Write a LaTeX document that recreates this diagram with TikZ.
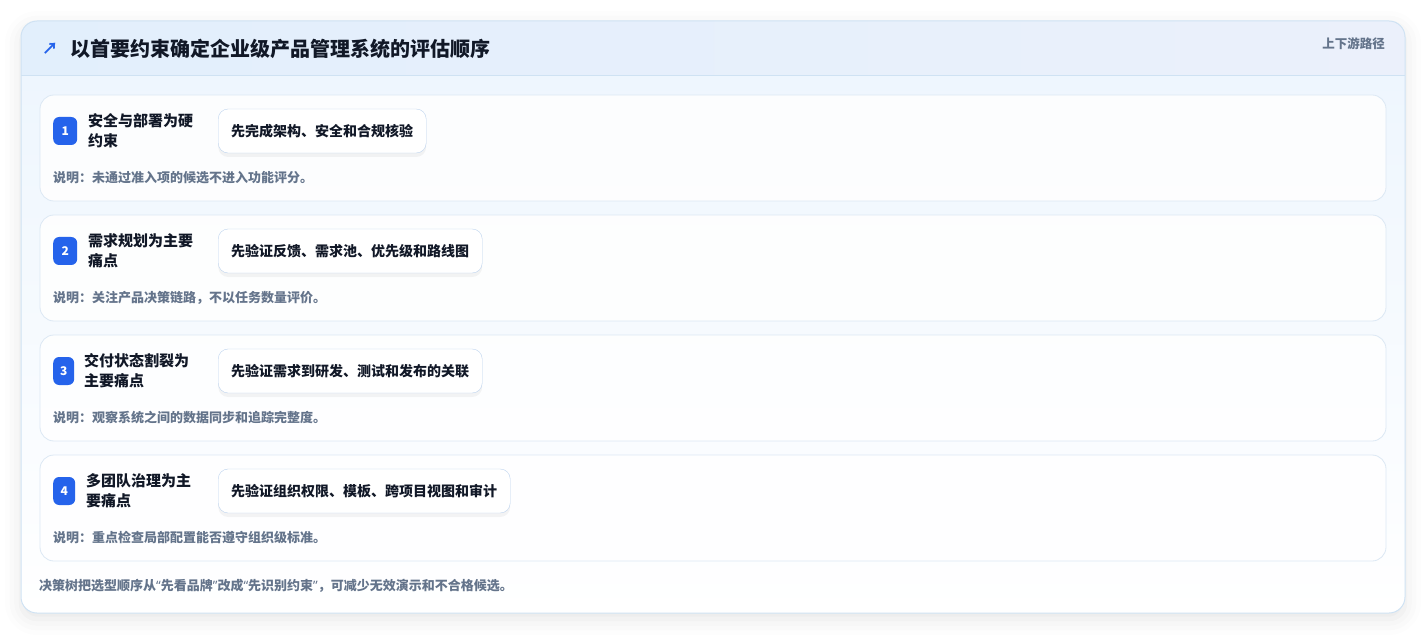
\documentclass[tikz,border=0pt]{standalone}
\usepackage{fontspec}
\setmainfont{Noto Sans CJK SC}
\newfontfamily\latinq{Noto Sans}
\usetikzlibrary{positioning, shadows.blur}
\definecolor{cardline}{HTML}{CFE2F3}
\definecolor{stepline}{HTML}{DCE8F4}
\definecolor{actline}{HTML}{BDD3EE}
\definecolor{badgeblue}{HTML}{2563EB}
\definecolor{inkdark}{HTML}{111827}
\definecolor{inkgray}{HTML}{64748B}
\definecolor{bodytop}{HTML}{EEF6FE}
\definecolor{headleft}{HTML}{E2EFFC}
\definecolor{headright}{HTML}{EBF0FB}
\newcommand{\oquote}{{\latinq “}}
\newcommand{\cquote}{{\latinq ”}}
\tikzset{
  stepcard/.style={draw=stepline, fill=white, fill opacity=.85, rounded corners=14pt, line width=.8pt},
  badge/.style={anchor=west, fill=badgeblue, rounded corners=6pt, minimum height=28pt,
    inner sep=0pt, text=white, font=\bfseries\fontsize{12}{14}\selectfont},
  steplabel/.style={anchor=west, align=left, inner sep=0pt, text=inkdark,
    font=\bfseries\fontsize{15}{20}\selectfont},
  actbox/.style={anchor=west, draw=actline, fill=white, rounded corners=10pt, minimum height=44pt,
    inner xsep=13pt, text=inkdark, font=\bfseries\fontsize{14}{16}\selectfont,
    preaction={draw=none, fill=black, fill opacity=.045, transform canvas={yshift=-4pt}}},
  notetext/.style={anchor=west, inner sep=0pt, text=inkgray, font=\bfseries\fontsize{13}{15}\selectfont}
}

\begin{document}
\begin{tikzpicture}[x=1pt, y=-1pt]
\useasboundingbox (0,0) rectangle (1426,636);

% outer card
\fill[white, blur shadow={shadow xshift=0pt, shadow yshift=-6pt, shadow blur radius=16pt, shadow opacity=10}, rounded corners=16pt]
  (21,21) rectangle (1405,613);
\begin{scope}
  \clip[rounded corners=16pt] (21,21) rectangle (1405,613);
  \shade[top color=bodytop, bottom color=white] (21,75) rectangle (1405,613);
  \shade[left color=headleft, right color=headright] (21,21) rectangle (1405,75);
  \draw[cardline, line width=.8pt] (21,75) -- (1405,75);
\end{scope}
\draw[cardline, line width=1pt, rounded corners=16pt] (21,21) rectangle (1405,613);

% header
\node[anchor=center, text=badgeblue, font=\bfseries\fontsize{16}{16}\selectfont] (icon) at (50,49) {↗};
\node[anchor=west, inner sep=0pt, text=inkdark, font=\bfseries\fontsize{20}{22}\selectfont] (title) at (70,49)
  {以首要约束确定企业级产品管理系统的评估顺序};
\node[anchor=east, inner sep=0pt, text=inkgray, font=\bfseries\fontsize{12.5}{14}\selectfont] (route) at (1385,44)
  {上下游路径};

% steps (badge width / label x differ a little per card)
\foreach \i/\bw/\lx/\lbl/\act/\note in {
  1/24/88/{安全与部署为硬\\约束}/{先完成架构、安全和合规核验}/{说明：未通过准入项的候选不进入功能评分。},
  2/24/88/{需求规划为主要\\痛点}/{先验证反馈、需求池、优先级和路线图}/{说明：关注产品决策链路，不以任务数量评价。},
  3/21/84/{交付状态割裂为\\主要痛点}/{先验证需求到研发、测试和发布的关联}/{说明：观察系统之间的数据同步和追踪完整度。},
  4/22/86/{多团队治理为主\\要痛点}/{先验证组织权限、模板、跨项目视图和审计}/{说明：重点检查局部配置能否遵守组织级标准。}}
{
  \pgfmathsetmacro\ty{95+120*(\i-1)}
  \draw[stepcard] (40,\ty) rectangle (1386,\ty+106);
  \node[badge, minimum width=\bw pt] (badge\i) at (53,\ty+36) {\i};
  \node[steplabel] (label\i) at (\lx,\ty+36) {\lbl};
  \node[actbox] (act\i) at (218,\ty+36) {\act};
  \node[notetext] (note\i) at (53,\ty+83) {\note};
}

% footer
\node[notetext] (summary) at (39,586)
  {决策树把选型顺序从\oquote 先看品牌\cquote 改成\oquote 先识别约束\cquote ，可减少无效演示和不合格候选。};
\end{tikzpicture}
\end{document}
